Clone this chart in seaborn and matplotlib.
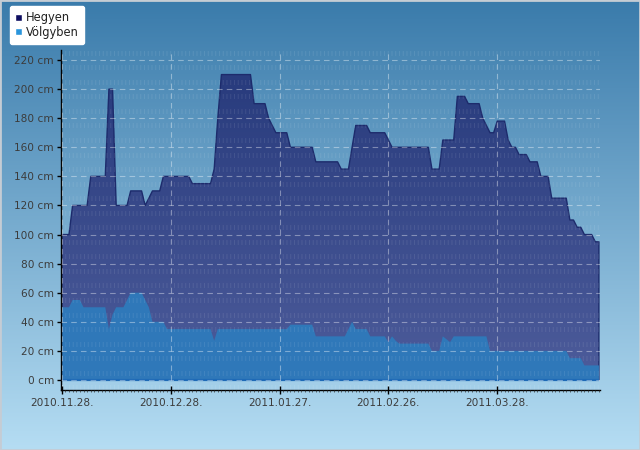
import numpy as np
import pandas as pd
import matplotlib
matplotlib.use('Agg')
import matplotlib.pyplot as plt
import matplotlib.dates as mdates
import seaborn as sns
from matplotlib.colors import LinearSegmentedColormap
from matplotlib.patches import Patch, Rectangle

# Daily snow depth (cm), starting 2010-11-28
START_DATE = '2010-11-28'
series_names = ['Hegyen', 'Völgyben']
hegyen = [
    100, 100, 100, 120, 120, 120, 120, 120, 140, 140,
    140, 140, 140, 200, 200, 120, 120, 120, 120, 130,
    130, 130, 130, 120, 125, 130, 130, 130, 140, 140,
    140, 140, 140, 140, 140, 140, 135, 135, 135, 135,
    135, 135, 145, 180, 210, 210, 210, 210, 210, 210,
    210, 210, 210, 190, 190, 190, 190, 180, 175, 170,
    170, 170, 170, 160, 160, 160, 160, 160, 160, 160,
    150, 150, 150, 150, 150, 150, 150, 145, 145, 145,
    160, 175, 175, 175, 175, 170, 170, 170, 170, 170,
    165, 160, 160, 160, 160, 160, 160, 160, 160, 160,
    160, 160, 145, 145, 145, 165, 165, 165, 165, 195,
    195, 195, 190, 190, 190, 190, 180, 175, 170, 170,
    178, 178, 178, 165, 160, 160, 155, 155, 155, 150,
    150, 150, 140, 140, 140, 125, 125, 125, 125, 125,
    110, 110, 105, 105, 100, 100, 100, 95, 95,
]
volgyben = [
    50, 50, 50, 55, 55, 55, 50, 50, 50, 50,
    50, 50, 50, 35, 45, 50, 50, 50, 55, 60,
    60, 60, 60, 55, 50, 40, 40, 40, 40, 35,
    35, 35, 35, 35, 35, 35, 35, 35, 35, 35,
    35, 35, 27, 35, 35, 35, 35, 35, 35, 35,
    35, 35, 35, 35, 35, 35, 35, 35, 35, 35,
    35, 35, 35, 38, 38, 38, 38, 38, 38, 38,
    30, 30, 30, 30, 30, 30, 30, 30, 30, 35,
    40, 35, 35, 35, 35, 30, 30, 30, 30, 30,
    26, 30, 27, 25, 25, 25, 25, 25, 25, 25,
    25, 25, 20, 20, 20, 30, 28, 26, 30, 30,
    30, 30, 30, 30, 30, 30, 30, 30, 20, 20,
    20, 20, 20, 20, 20, 20, 20, 20, 20, 20,
    20, 20, 20, 20, 20, 20, 20, 20, 20, 20,
    15, 15, 15, 15, 10, 10, 10, 10, 10,
]
y_ticks = list(range(0, 221, 20))

dates = pd.date_range(START_DATE, periods=len(hegyen), freq='D')
df = pd.DataFrame({'date': dates, 'Hegyen': hegyen, 'Völgyben': volgyben})

sns.set_theme(style='white')
plt.rcParams['font.family'] = ['DejaVu Sans']
plt.rcParams['lines.scale_dashes'] = False

fig = plt.figure(figsize=(6.4, 4.5), dpi=100)

# gradient page background
grad = np.linspace(0, 1, 256).reshape(-1, 1)
bg = fig.add_axes([0, 0, 1, 1], zorder=0)
bg_cmap = LinearSegmentedColormap.from_list('bg', ['#3a7bab', '#b5ddf3'])
bg.imshow(grad, aspect='auto', cmap=bg_cmap, extent=[0, 1, 0, 1], origin='upper')
bg.axis('off')

ax = fig.add_axes([61 / 640, 1 - 390 / 450, 539 / 640, 340 / 450], zorder=1)
ax.patch.set_alpha(0)

x0 = mdates.date2num(dates[0])
x1 = mdates.date2num(dates[-1])

# upper area with vertical gradient, clipped to the area shape
poly = ax.fill_between(df['date'], 0, df['Hegyen'], facecolor='none', edgecolor='none')
top_cmap = LinearSegmentedColormap.from_list('hg', ['#283b7d', '#4d5c9b'])
img = ax.imshow(grad, aspect='auto', cmap=top_cmap, origin='upper',
                extent=[x0, x1, 0, max(hegyen)], zorder=1)
img.set_clip_path(poly.get_paths()[0], transform=ax.transData)
ax.fill_between(df['date'], 0, df['Hegyen'], facecolor='none',
                edgecolor='#1d2b6c', lw=1.0, zorder=1.2)

# lower area
ax.fill_between(df['date'], 0, df['Völgyben'], facecolor='#2f78b9',
                edgecolor='none', zorder=1.4)
ax.hlines(0, dates[0], dates[-1], color='#1e6ab6', lw=1.6, zorder=1.5)

# faint texture rows and dashed grid
for yv in range(-5, 230, 10):
    ax.axhline(yv, color='white', alpha=0.09, lw=3.6, dashes=(0.7, 2.0), zorder=2.4)
ax.set_axisbelow(False)
ax.grid(True, which='major', color='white', alpha=0.38, lw=0.8, ls=(0, (4, 3)))

ax.set_ylim(-6.9, 226.9)
ax.set_xlim(x0 - 0.2, x0 + 148.3)
ax.set_yticks(y_ticks)
ax.set_yticklabels([f'{v} cm' for v in y_ticks])
ax.set_xticks(dates[::30])
ax.xaxis.set_major_formatter(mdates.DateFormatter('%Y.%m.%d.'))
ax.xaxis.set_minor_locator(mdates.DayLocator())

for side in ['top', 'right']:
    ax.spines[side].set_visible(False)
for side in ['left', 'bottom']:
    ax.spines[side].set_color('black')
    ax.spines[side].set_linewidth(1)

ax.tick_params(axis='y', direction='out', length=3, width=1, color='black',
               labelsize=7.6, labelcolor='#3c3c3c', pad=2, left=True)
ax.tick_params(axis='x', which='major', direction='inout', length=6, width=1,
               color='black', labelsize=7.6, labelcolor='#3c3c3c', pad=3, bottom=True)
ax.tick_params(axis='x', which='minor', direction='out', length=1.5, width=0.5,
               color='#333333', bottom=True)

handles = [Patch(facecolor='#0e0e60'), Patch(facecolor='#2a95dc')]
leg = fig.legend(handles, series_names, loc='upper left',
                 bbox_to_anchor=(10 / 640, 1 - 6 / 450), frameon=True, fancybox=True,
                 facecolor='white', edgecolor='white', framealpha=1, fontsize=8.3,
                 handlelength=0.55, handleheight=0.55, handletextpad=0.4,
                 labelspacing=0.15, borderpad=0.45, borderaxespad=0)
for t in leg.get_texts():
    t.set_color('#222222')

fig.patches.append(Rectangle((0, 0), 1, 1, transform=fig.transFigure, fill=False,
                             edgecolor='#c5ccd4', lw=2))

fig.savefig('out.png', dpi=100)
plt.close(fig)
